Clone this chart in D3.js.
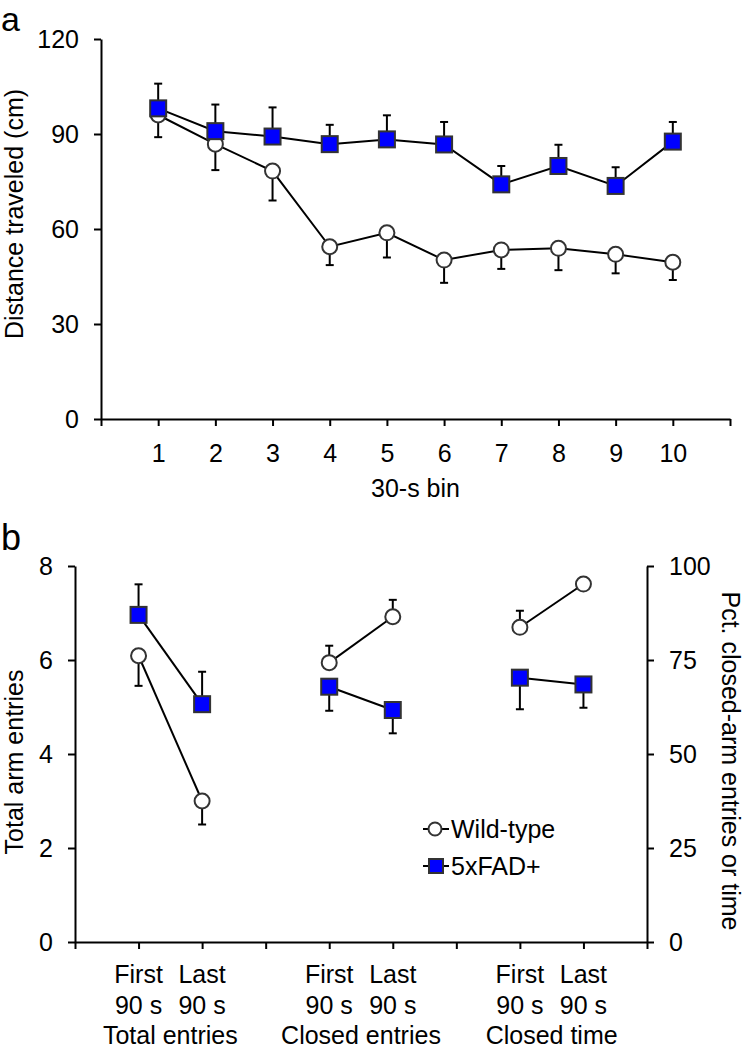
<!DOCTYPE html>
<html>
<head>
<meta charset="utf-8">
<script src="https://cdn.jsdelivr.net/npm/d3@7"></script>
<style>
  html, body { margin: 0; padding: 0; background: #fff; }
  svg { display: block; font-family: "Liberation Sans", Arial, sans-serif; }
</style>
</head>
<body>
<svg id="chart" width="746" height="1050"></svg>
<script>
// ---------- Data (panel a) ----------
const bins = [1, 2, 3, 4, 5, 6, 7, 8, 9, 10];
const binTicks = [0, 1, 2, 3, 4, 5, 6, 7, 8, 9, 10, 11];
const distanceTicks = [0, 30, 60, 90, 120];
const wtDistance = [96, 86.8, 78.3, 54.4, 58.8, 50.2, 53.4, 53.9, 52, 49.5];
const wtDistanceErr = [7, 8.2, 9.3, 5.8, 7.8, 7.2, 6, 6.9, 6, 5.6];
const fadDistance = [98.1, 90.9, 89.2, 86.8, 88.3, 86.7, 74.1, 79.9, 73.6, 87.6];
const fadDistanceErr = [7.8, 8.4, 9.2, 6.1, 7.6, 7.1, 5.8, 6.7, 5.9, 6.2];

// ---------- Data (panel b) ----------
const groups = ["Total entries", "Closed entries", "Closed time"];
const periods = [["First", "90 s"], ["Last", "90 s"]];
const groupAxis = ["left", "right", "right"];
const leftTicks = [0, 2, 4, 6, 8];
const rightTicks = [0, 25, 50, 75, 100];
const wtB = [[6.09, 3.0], [74.3, 86.5], [83.7, 95.2]];
const wtBErr = [[0.64, 0.5], [4.5, 4.5], [4.4, 0]];
const fadB = [[6.96, 5.06], [67.9, 61.7], [70.3, 68.5]];
const fadBErr = [[0.65, 0.69], [6.4, 6.2], [8.4, 6.2]];
const wtErrSide = [-1, 1, 1];   // -1 = below mean, 1 = above
const fadErrSide = [1, -1, -1];
const seriesNames = ["Wild-type", "5xFAD+"];

// ---------- Styles ----------
const FONT = 25;
const TITLE = 25;
const BLUE = "#0000ff";
const MARK_STROKE = "#333";
const LINE = "#000";

const svg = d3.select("#chart");

function styleAxis(g) {
  g.selectAll(".domain").attr("stroke", "#000").attr("stroke-width", 2);
  g.selectAll(".tick line").attr("stroke", "#000").attr("stroke-width", 2);
  g.selectAll(".tick text").attr("fill", "#000").style("font-size", FONT + "px");
  g.attr("font-family", null).attr("font-size", null);
}

function drawErr(g, x, y, v, e, side, yScale) {
  if (!e) return;
  const y0 = yScale(v), y1 = yScale(v + side * e);
  g.append("line").attr("x1", x).attr("x2", x).attr("y1", y0).attr("y2", y1)
    .attr("stroke", "#000").attr("stroke-width", 2);
  g.append("line").attr("x1", x - 4).attr("x2", x + 4).attr("y1", y1).attr("y2", y1)
    .attr("stroke", "#000").attr("stroke-width", 2);
}
function drawCircle(g, x, y, r) {
  g.append("circle").attr("cx", x).attr("cy", y).attr("r", r || 7.5)
    .attr("fill", "#fff").attr("stroke", MARK_STROKE).attr("stroke-width", 2);
}
function drawSquare(g, x, y, s) {
  s = s || 16;
  g.append("rect").attr("x", x - s / 2).attr("y", y - s / 2).attr("width", s).attr("height", s)
    .attr("fill", BLUE).attr("stroke", MARK_STROKE).attr("stroke-width", 2);
}

// ================= Panel a =================
const xA = d3.scaleLinear().domain([0, 11]).range([101, 730]);
const yA = d3.scaleLinear().domain([0, 120]).range([419, 39]);

svg.append("text").attr("x", 1).attr("y", 31).style("font-size", "34px").text("a");

const gyA = svg.append("g").attr("transform", `translate(${xA(0)},0)`)
  .call(d3.axisLeft(yA).tickValues(distanceTicks).tickSize(7).tickPadding(15).tickSizeOuter(0));
styleAxis(gyA);

const gxA = svg.append("g").attr("transform", `translate(0,${yA(0)})`)
  .call(d3.axisBottom(xA).tickValues(binTicks).tickSize(7).tickSizeOuter(0)
    .tickFormat(d => (d >= 1 && d <= 10) ? d : ""));
styleAxis(gxA);
gxA.selectAll(".tick text").attr("y", 43).attr("dy", 0);

svg.append("text").attr("x", (xA(0) + xA(11)) / 2).attr("y", 497)
  .attr("text-anchor", "middle").style("font-size", TITLE + "px").text("30-s bin");
svg.append("text").attr("transform", `translate(23,214) rotate(-90)`)
  .attr("text-anchor", "middle").style("font-size", TITLE + "px").text("Distance traveled (cm)");

const pa = svg.append("g");
const lineA = d3.line().x((d, i) => xA(bins[i])).y(d => yA(d));
bins.forEach((b, i) => drawErr(pa, xA(b), 0, wtDistance[i], wtDistanceErr[i], -1, yA));
bins.forEach((b, i) => drawErr(pa, xA(b), 0, fadDistance[i], fadDistanceErr[i], 1, yA));
pa.append("path").attr("d", lineA(wtDistance)).attr("fill", "none").attr("stroke", LINE).attr("stroke-width", 2);
bins.forEach((b, i) => drawCircle(pa, xA(b), yA(wtDistance[i])));
pa.append("path").attr("d", lineA(fadDistance)).attr("fill", "none").attr("stroke", LINE).attr("stroke-width", 2);
bins.forEach((b, i) => drawSquare(pa, xA(b), yA(fadDistance[i])));

// ================= Panel b =================
const xB = d3.scaleLinear().domain([0, 9]).range([75, 647]);
const yBL = d3.scaleLinear().domain([0, 8]).range([942, 566]);
const yBR = d3.scaleLinear().domain([0, 100]).range([942, 566]);

svg.append("text").attr("x", 1).attr("y", 550).style("font-size", "36px").text("b");

const gyBL = svg.append("g").attr("transform", `translate(${xB(0)},0)`)
  .call(d3.axisLeft(yBL).tickValues(leftTicks).tickSize(7).tickPadding(15).tickSizeOuter(0));
styleAxis(gyBL);
const gyBR = svg.append("g").attr("transform", `translate(${xB(9)},0)`)
  .call(d3.axisRight(yBR).tickValues(rightTicks).tickSize(7).tickPadding(15).tickSizeOuter(0));
styleAxis(gyBR);
const gxB = svg.append("g").attr("transform", `translate(0,${yBL(0)})`)
  .call(d3.axisBottom(xB).tickValues(d3.range(0, 10)).tickSize(7).tickSizeOuter(0).tickFormat(""));
styleAxis(gxB);

svg.append("text").attr("transform", `translate(23,762) rotate(-90)`)
  .attr("text-anchor", "middle").style("font-size", TITLE + "px").text("Total arm entries");
svg.append("text").attr("transform", `translate(722,761) rotate(90)`)
  .attr("text-anchor", "middle").style("font-size", TITLE + "px").text("Pct. closed-arm entries or time");

// x labels
const posOf = (gi, pi) => gi * 3 + pi + 1;
groups.forEach((gname, gi) => {
  periods.forEach((p, pi) => {
    const x = xB(posOf(gi, pi));
    svg.append("text").attr("x", x).attr("y", 983).attr("text-anchor", "middle")
      .style("font-size", FONT + "px").text(p[0]);
    svg.append("text").attr("x", x).attr("y", 1014).attr("text-anchor", "middle")
      .style("font-size", FONT + "px").text(p[1]);
  });
  svg.append("text").attr("x", xB(posOf(gi, 0) + 0.5)).attr("y", 1044).attr("text-anchor", "middle")
    .style("font-size", FONT + "px").text(gname);
});

const pb = svg.append("g");
groups.forEach((gname, gi) => {
  const ys = groupAxis[gi] === "left" ? yBL : yBR;
  const xs = [0, 1].map(pi => xB(posOf(gi, pi)));
  [0, 1].forEach(pi => {
    drawErr(pb, xs[pi], 0, wtB[gi][pi], wtBErr[gi][pi], wtErrSide[gi], ys);
    drawErr(pb, xs[pi], 0, fadB[gi][pi], fadBErr[gi][pi], fadErrSide[gi], ys);
  });
  pb.append("line").attr("x1", xs[0]).attr("x2", xs[1])
    .attr("y1", ys(wtB[gi][0])).attr("y2", ys(wtB[gi][1])).attr("stroke", LINE).attr("stroke-width", 2);
  pb.append("line").attr("x1", xs[0]).attr("x2", xs[1])
    .attr("y1", ys(fadB[gi][0])).attr("y2", ys(fadB[gi][1])).attr("stroke", LINE).attr("stroke-width", 2);
  [0, 1].forEach(pi => {
    drawCircle(pb, xs[pi], ys(wtB[gi][pi]));
    drawSquare(pb, xs[pi], ys(fadB[gi][pi]));
  });
});

// legend
const lg = svg.append("g");
seriesNames.forEach((name, i) => {
  const cy = 829 + i * 37;
  lg.append("line").attr("x1", 423).attr("x2", 449).attr("y1", cy).attr("y2", cy)
    .attr("stroke", "#000").attr("stroke-width", 2);
  if (i === 0) drawCircle(lg, 435, cy, 6.5);
  else drawSquare(lg, 436, cy, 14);
  lg.append("text").attr("x", 451).attr("y", cy + 9).style("font-size", FONT + "px").text(name);
});
</script>
</body>
</html>
